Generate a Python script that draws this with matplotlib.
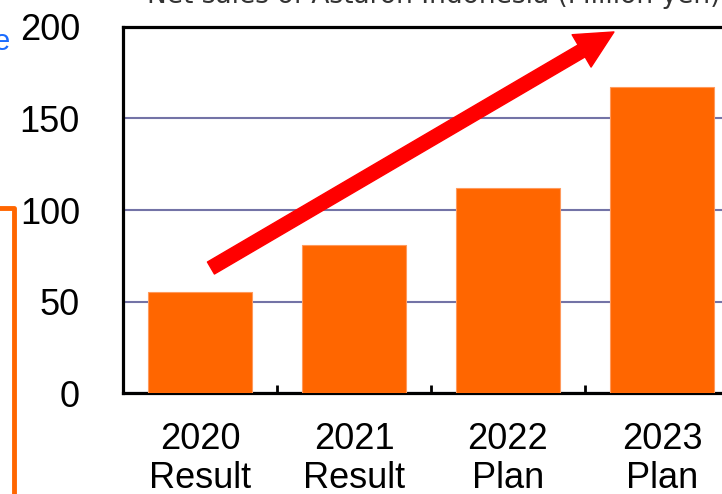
import matplotlib
matplotlib.use('Agg')
import matplotlib.pyplot as plt
from matplotlib.patches import Rectangle
from matplotlib.ticker import FixedLocator

# data
years = ['2020', '2021', '2022', '2023']
kinds = ['Result', 'Result', 'Plan', 'Plan']
sales = [55, 81, 112, 167]      # million
labels = [y + '\n' + k for y, k in zip(years, kinds)]

orange = '#ff6600'

fig = plt.figure(figsize=(7.22, 4.94), dpi=100)
ax = fig.add_axes([123/722, 101/494, 616/722, 366/494])

x = range(len(sales))
ax.bar(x, sales, width=0.67, color=orange, edgecolor='#ff9a5c', linewidth=0.8, zorder=3)

ax.set_xlim(-0.5, 3.5)
ax.set_ylim(0, 200)
ax.set_yticks([0, 50, 100, 150, 200])
ax.set_xticks(list(x))
ax.set_xticklabels(labels, fontsize=26, family='Liberation Sans', linespacing=1.13)
ax.xaxis.set_minor_locator(FixedLocator([0.5, 1.5, 2.5]))
ax.tick_params(axis='x', which='major', length=0, pad=21)
ax.tick_params(axis='x', which='minor', direction='in', length=6, width=2)
ax.tick_params(axis='y', length=0, pad=31, labelsize=26)
for t in ax.get_yticklabels():
    t.set_family('Liberation Sans')

ax.yaxis.grid(True, color='#7373a6', linewidth=1.5, zorder=0)
ax.set_axisbelow(True)
for s in ax.spines.values():
    s.set_linewidth(2.3)
    s.set_color('black')

# growth arrow
ax.annotate('', xy=(2.688, 197.3), xytext=(0.071, 68.3),
            arrowprops=dict(arrowstyle='simple,head_width=27,head_length=27,tail_width=10',
                            mutation_scale=1, color='#ff0000', shrinkA=0, shrinkB=0),
            zorder=5)

# title, mostly cut off at top
fig.text(147/722, 1 - 3/494, 'Net sales of Astaron Indonesia (Million yen)',
         fontsize=19, color='#333333', va='baseline', ha='left', family='DejaVu Sans')

# bits of neighbouring content at the left edge
fig.text(10/722, 1 - 50/494, 'e', fontsize=21, color='#1a6cff', ha='right', va='baseline',
         family='Liberation Sans')
fig.patches.append(Rectangle((-100/722, -0.2), 114/722, 1.2 - 208/494, transform=fig.transFigure,
                             fill=False, edgecolor=orange, linewidth=3.5, joinstyle='round',
                             clip_on=False, figure=fig))

fig.savefig('out.png', dpi=100)
